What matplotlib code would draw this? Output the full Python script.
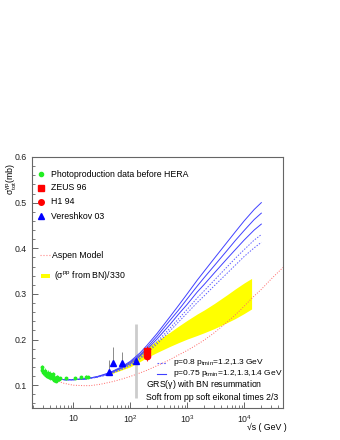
import matplotlib
matplotlib.use('Agg')
import matplotlib.pyplot as plt
from matplotlib.ticker import FixedLocator, FixedFormatter, NullFormatter

plt.rcParams['font.family'] = ['Liberation Sans', 'DejaVu Sans']
plt.rcParams['mathtext.fontset'] = 'custom'
plt.rcParams['mathtext.rm'] = 'Liberation Sans'
plt.rcParams['mathtext.it'] = 'Liberation Sans:italic'
plt.rcParams['mathtext.default'] = 'regular'

# photoproduction data before HERA
pre_s = [2.8, 2.9, 3.0, 3.1, 3.2, 3.3, 3.4, 3.5, 3.6, 3.7, 3.8, 3.9, 4.0, 4.1, 4.2, 4.3,
         4.4, 4.5, 4.6, 4.7, 4.8, 5.0, 5.2, 5.4, 5.6, 6.0, 7.5, 11.0, 14.0, 17.0, 18.0]
pre_sig = [0.139, 0.133, 0.128, 0.126, 0.131, 0.124, 0.122, 0.121, 0.127, 0.119, 0.122,
           0.117, 0.125, 0.119, 0.121, 0.115, 0.118, 0.124, 0.113, 0.112, 0.116, 0.110,
           0.117, 0.114, 0.114, 0.115, 0.115, 0.116, 0.117, 0.119, 0.118]
pre_err = [0.006, 0.006, 0.005, 0.005, 0.006, 0.005, 0.005, 0.005, 0.006, 0.005, 0.005,
           0.005, 0.006, 0.005, 0.005, 0.004, 0.005, 0.005, 0.004, 0.004, 0.004, 0.004,
           0.005, 0.004, 0.004, 0.003, 0.003, 0.003, 0.003, 0.003, 0.003]

zeus_s, zeus_sig, zeus_err = [200], [0.174], [0.011]
h1_s, h1_sig, h1_err = [200], [0.165], [0.011]

ver_s = [43, 51, 71, 127]
ver_sig = [0.129, 0.148, 0.148, 0.152]
ver_lo = [0.004, 0.004, 0.004, 0.004]
ver_hi = [0.026, 0.036, 0.025, 0.004]

# grey vertical band (cosmic ray estimate)
cr_s, cr_lo, cr_hi = 127, 0.073, 0.233

# GRS(gamma) + BN resummation curves
curve_s = [5, 6, 7, 8, 10, 13, 17, 20, 25, 30, 40, 50, 70, 100, 150, 200, 300, 500,
           700, 1000, 1500, 2000, 3000, 5000, 7000, 10000, 15000, 20000]
solid_p075 = [
    [0.115, 0.113, 0.112, 0.112, 0.112, 0.113, 0.114, 0.116, 0.118, 0.121, 0.126, 0.131,
     0.140, 0.152, 0.171, 0.188, 0.214, 0.250, 0.274, 0.300, 0.330, 0.350, 0.378, 0.413,
     0.436, 0.460, 0.485, 0.500],
    [0.115, 0.113, 0.112, 0.112, 0.112, 0.113, 0.114, 0.116, 0.118, 0.120, 0.125, 0.130,
     0.138, 0.150, 0.167, 0.183, 0.208, 0.242, 0.264, 0.289, 0.317, 0.336, 0.362, 0.395,
     0.417, 0.439, 0.463, 0.477],
    [0.115, 0.113, 0.112, 0.112, 0.112, 0.113, 0.114, 0.116, 0.117, 0.120, 0.124, 0.129,
     0.137, 0.147, 0.164, 0.179, 0.202, 0.233, 0.255, 0.277, 0.304, 0.321, 0.346, 0.377,
     0.397, 0.418, 0.440, 0.453],
]
dash_p08 = [
    [0.114, 0.113, 0.112, 0.112, 0.112, 0.113, 0.114, 0.115, 0.117, 0.119, 0.123, 0.128,
     0.135, 0.145, 0.160, 0.174, 0.196, 0.225, 0.245, 0.266, 0.291, 0.307, 0.330, 0.359,
     0.378, 0.397, 0.418, 0.430],
    [0.114, 0.113, 0.112, 0.112, 0.112, 0.113, 0.114, 0.115, 0.117, 0.119, 0.123, 0.127,
     0.134, 0.143, 0.158, 0.171, 0.191, 0.219, 0.238, 0.258, 0.281, 0.296, 0.318, 0.345,
     0.363, 0.382, 0.401, 0.413],
]

# (sigma_pp from BN)/330 band
bn_s = [40, 60, 100, 150, 200, 300, 500, 700, 1000, 1500, 2000, 3000, 5000, 7000, 10000, 13500]
bn_lo = [0.122, 0.130, 0.140, 0.152, 0.161, 0.172, 0.185, 0.193, 0.201, 0.209, 0.215,
         0.224, 0.237, 0.246, 0.257, 0.267]
bn_hi = [0.128, 0.137, 0.152, 0.170, 0.183, 0.198, 0.216, 0.229, 0.242, 0.256, 0.265,
         0.279, 0.298, 0.311, 0.324, 0.334]

# Aspen model
asp_s = [5, 7, 10, 15, 20, 30, 50, 70, 100, 150, 200, 300, 500, 700, 1000, 1500, 2000,
         3000, 5000, 7000, 10000, 13500, 20000, 30000, 48000]
asp_sig = [0.110, 0.104, 0.100, 0.099, 0.099, 0.102, 0.108, 0.113, 0.119, 0.127, 0.133,
           0.143, 0.156, 0.166, 0.176, 0.189, 0.199, 0.215, 0.238, 0.254, 0.273, 0.290,
           0.310, 0.333, 0.358]

fig = plt.figure(figsize=(3.4, 4.4), dpi=100)
ax = fig.add_axes([32/340, 32/440, 251/340, 251/440])
ax.set_xscale('log')
ax.set_xlim(1.9, 4.8e4)
ax.set_ylim(0.05, 0.6)

ax.fill_between(bn_s, bn_lo, bn_hi, color='#ffff00', lw=0, zorder=1)
ax.plot(asp_s, asp_sig, color='#ff6666', ls=':', lw=0.7, zorder=2)
for c in solid_p075:
    ax.plot(curve_s, c, color='#4040ff', lw=0.7, zorder=3)
for c in dash_p08:
    ax.plot(curve_s, c, color='#6060ff', lw=0.7, ls=(0, (1.5, 1.5)), zorder=3)

ax.vlines(cr_s, cr_lo, cr_hi, color='#cccccc', lw=2, zorder=2)
ax.errorbar(pre_s, pre_sig, yerr=pre_err, fmt='o', ms=1.8, color='#22ee22',
            elinewidth=0.5, capsize=0, zorder=4)
ax.errorbar(ver_s, ver_sig, yerr=[ver_lo, ver_hi], fmt='^', ms=4.5, color='#0000ff',
            ecolor='#777777', elinewidth=0.6, capsize=0, zorder=5)
ax.errorbar(zeus_s, zeus_sig, yerr=zeus_err, fmt='s', ms=4.5, color='#ff0000',
            elinewidth=0.6, capsize=0, zorder=6)
ax.errorbar(h1_s, h1_sig, yerr=h1_err, fmt='o', ms=4.5, color='#ff0000',
            elinewidth=0.6, capsize=0, zorder=6)

# axes styling (ROOT-like)
for sp in ax.spines.values():
    sp.set_color('#666666')
    sp.set_linewidth(0.8)
ax.yaxis.set_major_locator(FixedLocator([0.1, 0.2, 0.3, 0.4, 0.5, 0.6]))
ax.yaxis.set_minor_locator(FixedLocator([0.06 + 0.02 * i for i in range(28)]))
ax.xaxis.set_major_locator(FixedLocator([10, 100, 1000, 10000]))
ax.xaxis.set_major_formatter(FixedFormatter(['10', '$10^{2}$', '$10^{3}$', '$10^{4}$']))
ax.xaxis.set_minor_locator(FixedLocator([m * 10 ** e for e in range(0, 5) for m in range(2, 10)]))
ax.xaxis.set_minor_formatter(NullFormatter())
ax.tick_params(which='both', direction='in', color='#666666', labelsize=6.3,
               labelcolor='#222222', top=False, right=False)
ax.tick_params(which='major', length=4, width=0.7, pad=4)
ax.tick_params(which='minor', length=2, width=0.6)

fig.text(12/340, 1 - 163/440, r'$\sigma_{tot}^{\gamma p}$(mb)', rotation=90,
         ha='center', va='top', fontsize=6.3)
fig.text(287/340, 1 - 427/440, '\u221as ( GeV )', ha='right', va='center', fontsize=6.3)

# legend drawn by hand, in axes fractions
def ax_xy(px, py):
    return (px - 32) / 251, (408 - py) / 251

fs = 6.3
keys = [('o', '#22ee22', 3.0, 174, 'Photoproduction data before HERA'),
        ('s', '#ff0000', 4.0, 188, 'ZEUS 96'),
        ('o', '#ff0000', 4.0, 202, 'H1 94'),
        ('^', '#0000ff', 4.0, 216, 'Vereshkov 03')]
for m, col, ms, py, lab in keys:
    x, y = ax_xy(41, py)
    ax.plot([x], [y], marker=m, ms=ms, color=col, ls='none',
            transform=ax.transAxes, clip_on=False)
    ax.text(ax_xy(51, py)[0], y, lab, fontsize=fs, va='center', transform=ax.transAxes)

x0, y = ax_xy(40, 255)
x1, _ = ax_xy(50, 255)
ax.plot([x0, x1], [y, y], color='#ff8888', ls=':', lw=0.8, transform=ax.transAxes)
ax.text(ax_xy(52, 255)[0], y, 'Aspen Model', fontsize=fs, va='center', transform=ax.transAxes)

x0, y = ax_xy(40.5, 276)
ax.add_patch(plt.Rectangle((x0, y - 0.007), 9.5 / 251, 0.014, color='#ffff00',
                           transform=ax.transAxes, lw=0))
ax.text(ax_xy(54, 276)[0], y, r'($\sigma^{pp}$ from BN)/330', fontsize=fs, va='center',
        transform=ax.transAxes)

fs2 = 6.0
x0, y = ax_xy(157, 362.5)
x1, _ = ax_xy(166, 362.5)
ax.plot([x0, x1], [y, y], color='#6060ff', ls=(0, (1.5, 1.5)), lw=0.8, transform=ax.transAxes)
ax.text(ax_xy(173, 362.5)[0], y, r'p=0.8 p$_{tmin}$=1.2,1.3 GeV', fontsize=fs2, va='center',
        transform=ax.transAxes)
x0, y = ax_xy(157, 373.5)
ax.plot([x0, x1], [y, y], color='#4040ff', lw=0.8, transform=ax.transAxes)
ax.text(ax_xy(173, 373.5)[0], y, r'p=0.75 p$_{tmin}$=1.2,1.3,1.4 GeV', fontsize=fs2,
        va='center', transform=ax.transAxes)
ax.text(ax_xy(146, 384.5)[0], ax_xy(146, 384.5)[1], r'GRS($\gamma$) with BN resummation',
        fontsize=fs, va='center', transform=ax.transAxes)
ax.text(ax_xy(146, 397)[0], ax_xy(146, 397)[1], 'Soft from pp soft eikonal times 2/3',
        fontsize=fs, va='center', transform=ax.transAxes)

fig.savefig('out.png', dpi=100)
